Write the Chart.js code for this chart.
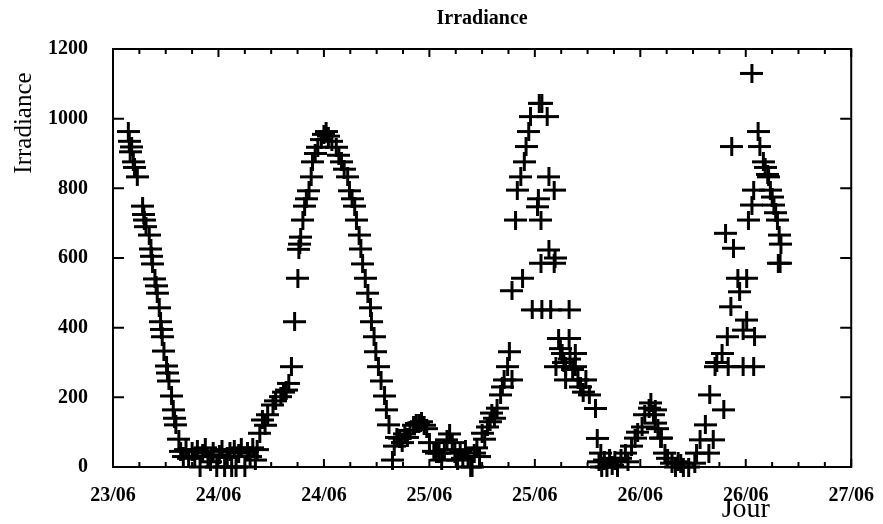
<!DOCTYPE html>
<html>
<head>
<meta charset="utf-8">
<script src="https://cdn.jsdelivr.net/npm/chart.js@4.4.0/dist/chart.umd.min.js"></script>
<style>
  html, body { margin: 0; padding: 0; background: #fff; }
  #wrap { width: 883px; height: 524px; }
</style>
</head>
<body>
<div id="wrap"><canvas id="irr"></canvas></div>
<script>
// hours since 23/06 12:00, one tick label every 12 h
const tickLabels = ["23/06", "24/06", "24/06", "25/06", "25/06", "26/06", "26/06", "27/06"];

const obsHour = [
  1.74, 1.85, 1.95, 2.12, 2.31, 2.45, 2.76, 3.37, 3.5, 3.56, 3.75, 4.12, 4.31, 4.4, 4.5, 4.77, 4.9, 5.03,
  5.26, 5.41, 5.5, 5.6, 5.79, 6.09, 6.2, 6.36, 6.66, 6.85, 7.0, 7.15, 7.49,
  7.7, 8.0, 8.3, 8.6, 9.0, 9.3, 9.6, 9.9, 10.2, 10.5, 10.8, 11.1, 11.4, 11.8, 12.1, 12.4, 12.7, 13.0,
  13.3, 13.5, 13.8, 14.0, 14.3, 14.6, 15.0, 15.3, 15.6, 15.9, 16.2, 16.4,
  16.7, 17.0, 17.3, 17.6, 18.2, 18.5, 19.1, 19.4, 19.7, 20.0, 20.3, 20.66, 21.03, 21.15, 21.25, 21.35,
  21.6, 21.8, 22.0, 22.3, 22.55, 22.7, 23.0, 23.3, 23.7, 24.0, 24.25, 24.5, 24.9, 25.4, 25.7, 26.0,
  26.3, 26.7, 26.9, 27.2, 27.5, 27.7, 28.0, 28.2, 28.4, 28.7, 29.0, 29.3, 29.4, 29.7, 29.9, 30.2,
  30.5, 30.9, 31.1, 31.4,
  31.8, 32.0, 32.3, 32.6, 32.9, 33.2, 33.5, 33.8, 34.2, 34.5, 34.8, 35.1, 35.4, 35.7, 36.0, 36.5,
  36.8, 37.1, 37.4, 37.7, 38.0, 38.3, 38.6, 38.9, 39.2, 39.5, 39.8, 40.1, 40.4, 40.7, 40.85, 41.1,
  41.4, 41.7,
  42.0, 42.3, 42.6, 42.9, 43.1, 43.4, 43.7, 44.1, 44.3, 44.5, 44.9, 45.1, 45.4, 45.4, 45.8, 46.0,
  46.4, 46.6, 46.8, 47.0, 47.3, 47.5, 47.7, 48.3, 48.4, 48.5, 48.7, 48.7, 48.8, 48.8, 49.4, 49.6,
  49.6, 49.8, 50.2, 50.3, 50.2, 50.4, 50.7, 50.9, 51.1, 51.3, 51.5, 51.5, 51.9, 51.9, 52.0, 52.3,
  52.6, 52.6, 52.9, 53.2, 53.5, 53.8, 54.2, 54.9, 55.1, 55.5,
  55.3, 55.6, 55.9, 56.2, 56.5, 56.8, 57.1, 57.4, 57.8, 58.3, 58.6, 59.0, 59.4, 59.7, 60.2, 60.5,
  61.0, 61.2, 61.5, 61.7, 61.7, 62.0, 62.3, 62.4, 62.8, 63.1, 63.6, 64.0, 64.3, 64.6, 64.9, 65.5,
  66.2, 66.4, 66.8, 67.4, 67.8, 67.9, 68.3, 68.5, 68.7, 69.3, 69.5, 69.7, 69.9, 70.0, 70.3, 70.4,
  70.6, 71.1, 71.3, 71.7, 71.7, 72.1, 72.1, 72.3, 72.7, 72.7, 72.9, 72.9, 73.0, 73.4, 73.6, 74.0,
  74.2, 74.5, 74.6, 74.8, 75.0, 75.2, 75.4, 75.6, 75.7, 75.9, 75.8, 76.0
];

const obsIrr = [
  963, 935, 905, 919, 876, 860, 833, 749, 725, 709, 690, 666, 626, 605, 583, 540, 520, 499,
  457, 417, 395, 374, 333, 290, 270, 247, 204, 164, 140, 121, 80,
  45, 30, 50, 25, 45, 30, 50, 0, 40, 55, 30, 15, 45, 0, 35, 50, 0, 30,
  45, 0, 50, 0, 40, 55, 0, 45, 30, 55, 20, 50,
  97, 135, 120, 150, 178, 190, 202, 215, 221, 240, 288, 417, 542, 625, 640, 660,
  709, 749, 770, 793, 833, 876, 900, 918, 940, 955, 963, 950, 935, 918, 895, 876,
  855, 833, 793, 770, 749, 709, 666, 626, 583, 542, 499, 457, 417, 374, 331, 288,
  247, 204, 164, 121,
  20, 60, 85, 83, 70, 95, 85, 105, 120, 125, 126, 130, 120, 110, 70, 45,
  40, 40, 20, 50, 78, 95, 70, 40, 20, 45, 25, 50, 30, 0, 0, 40,
  55, 30,
  97, 80, 115, 130, 155, 140, 169, 207, 230, 250, 288, 331, 250, 506, 709, 795,
  833, 542, 876, 920, 963, 1006, 451, 747, 770, 1044, 585, 709, 1044, 451, 1006, 623,
  833, 451, 585, 600, 795, 288, 369, 340, 326, 300, 288, 250, 369, 451, 310, 280,
  326, 288, 250, 230, 215, 250, 207, 168, 82, 40,
  15, 0, 20, 0, 25, 5, 20, 0, 25, 40, 15, 60, 83, 100, 115, 150,
  169, 184, 150, 126, 164, 110, 83, 83, 40, 25, 11, 0, 15, 11, 0, 0,
  11, 40, 78, 121, 40, 207, 78, 288, 300, 326, 164, 671, 374, 288, 460, 920,
  628, 542, 503, 393, 288, 422, 542, 709, 752, 1130, 795, 288, 374, 963, 920, 876,
  860, 840, 833, 795, 775, 752, 730, 709, 585, 585, 666, 640
];

const points = obsHour.map((h, i) => ({ x: h, y: obsIrr[i] }));

function plusMarker() {
  const c = document.createElement('canvas');
  c.width = 23; c.height = 19;
  const g = c.getContext('2d');
  g.fillStyle = '#000';
  g.fillRect(0, 8, 23, 3);
  g.fillRect(10, 0, 3, 19);
  return c;
}

const serif = '"Liberation Serif", "DejaVu Serif", serif';

// frame + inward tick marks, gnuplot style
const framePlugin = {
  id: 'frame',
  beforeDatasetsDraw(chart) {
    const { ctx, chartArea: a, scales: { x, y } } = chart;
    ctx.save();
    ctx.strokeStyle = '#000';
    ctx.lineWidth = 2;
    ctx.strokeRect(a.left, a.top, a.right - a.left, a.bottom - a.top);
    ctx.beginPath();
    for (let h = 0; h <= 84; h += 3) {
      const px = x.getPixelForValue(h);
      const len = h % 12 === 0 ? 8 : 5;
      ctx.moveTo(px, a.bottom); ctx.lineTo(px, a.bottom - len);
      ctx.moveTo(px, a.top); ctx.lineTo(px, a.top + len);
    }
    y.ticks.forEach(t => {
      const py = y.getPixelForValue(t.value);
      ctx.moveTo(a.left, py); ctx.lineTo(a.left + 11, py);
      ctx.moveTo(a.right, py); ctx.lineTo(a.right - 11, py);
    });
    ctx.stroke();
    ctx.restore();
  },
  afterDraw(chart) {
    const { ctx, scales: { x } } = chart;
    ctx.save();
    ctx.fillStyle = '#000';
    ctx.textAlign = 'center';
    ctx.textBaseline = 'middle';
    ctx.font = '28px ' + serif;
    ctx.fillText('Jour', x.getPixelForValue(72), 510);
    ctx.translate(24, 123);
    ctx.rotate(-Math.PI / 2);
    ctx.font = '25px ' + serif;
    ctx.fillText('Irradiance', 0, 0);
    ctx.restore();
  }
};

new Chart(document.getElementById('irr'), {
  type: 'scatter',
  data: {
    datasets: [{
      label: 'Irradiance',
      data: points,
      pointStyle: plusMarker(),
      clip: false
    }]
  },
  options: {
    responsive: true,
    maintainAspectRatio: false,
    animation: false,
    layout: { padding: { left: 0, right: 30, top: 0, bottom: 0 } },
    plugins: {
      legend: { display: false },
      tooltip: { enabled: false },
      title: {
        display: true,
        text: 'Irradiance',
        fullSize: false,
        color: '#000',
        font: { family: serif, size: 20, weight: 'bold' },
        padding: { top: 7, bottom: 18 }
      }
    },
    scales: {
      x: {
        type: 'linear',
        min: 0,
        max: 84,
        grid: { display: false },
        border: { display: false },
        afterFit(s) { s.height = 57; },
        ticks: {
          stepSize: 12,
          padding: 9,
          color: '#000',
          font: { family: serif, size: 20, weight: 'bold' },
          maxRotation: 0,
          callback: v => tickLabels[Math.round(v / 12)]
        }
      },
      y: {
        min: 0,
        max: 1200,
        grid: { display: false },
        border: { display: false },
        afterFit(s) { s.width = 113; },
        ticks: {
          stepSize: 200,
          padding: 17,
          color: '#000',
          font: { family: serif, size: 20, weight: 'bold' },
          callback: v => String(v)
        }
      }
    }
  },
  plugins: [framePlugin]
});
</script>
</body>
</html>
